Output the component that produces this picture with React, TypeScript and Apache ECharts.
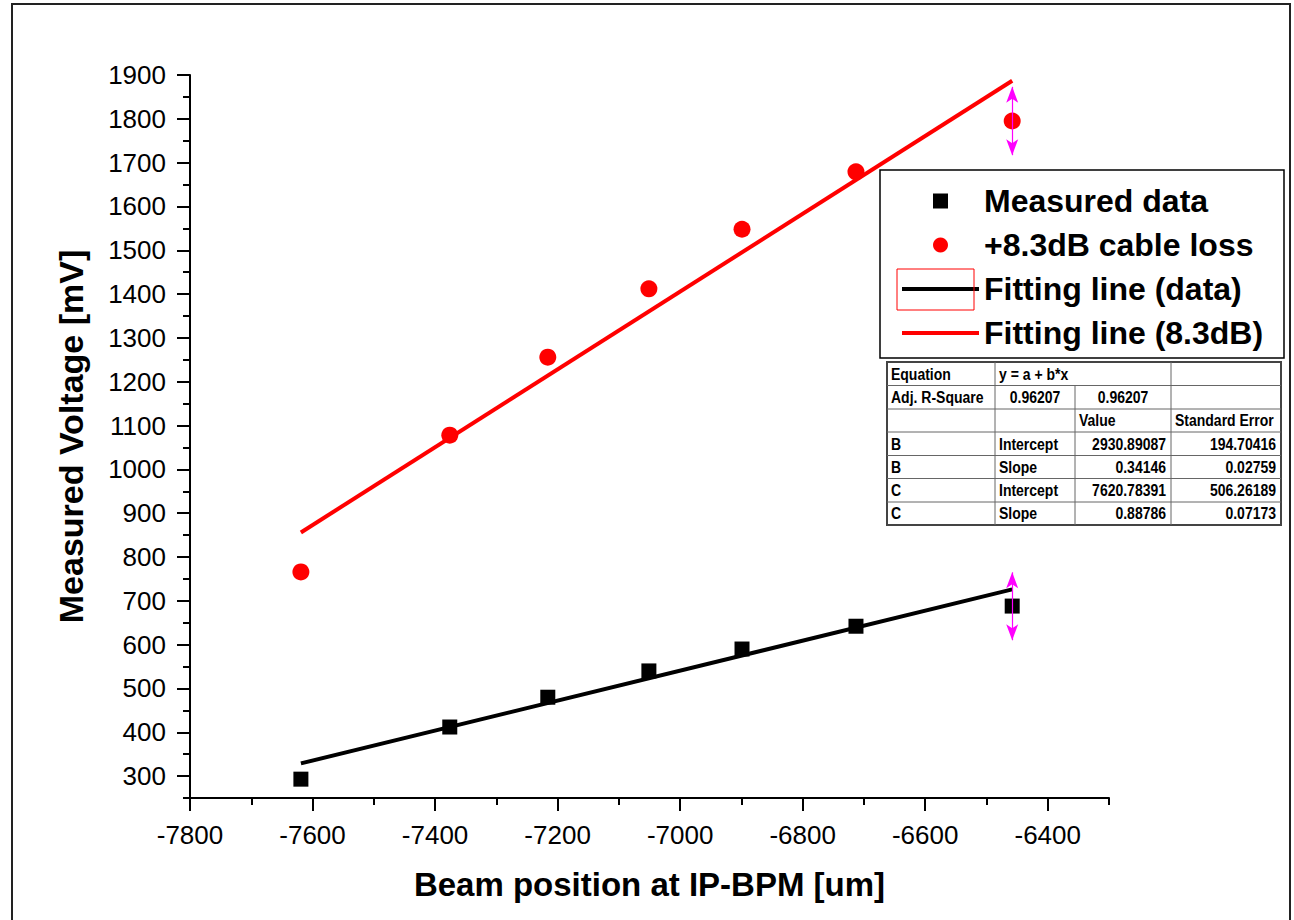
import { useEffect, useRef } from 'react';
import * as echarts from 'echarts';

// ---- data ----
const beamPosition = [-7619, -7376, -7216, -7051, -6899, -6713, -6458];
const measuredVoltage = [293, 412, 480, 540, 590, 642, 688];
const cableLossVoltage = [766, 1078, 1256, 1412, 1548, 1679, 1795];
const fitX = [-7619, -6458];
const fitDataY = [329, 726];
const fitCableY = [856, 1887];
const errorX = -6458;
const measuredErr = [610, 765];
const cableErr = [1717, 1873];
const xMajorTicks = [-7800, -7600, -7400, -7200, -7000, -6800, -6600, -6400];
const yMajorTicks = [300, 400, 500, 600, 700, 800, 900, 1000, 1100, 1200, 1300, 1400, 1500, 1600, 1700, 1800, 1900];
const seriesNames = ['Measured data', '+8.3dB cable loss', 'Fitting line (data)', 'Fitting line (8.3dB)'];
const tableRows = [
  ['Equation', 'y = a + b*x', '', ''],
  ['Adj. R-Square', '0.96207', '0.96207', ''],
  ['', '', 'Value', 'Standard Error'],
  ['B', 'Intercept', '2930.89087', '194.70416'],
  ['B', 'Slope', '0.34146', '0.02759'],
  ['C', 'Intercept', '7620.78391', '506.26189'],
  ['C', 'Slope', '0.88786', '0.07173'],
];
const tableAlign = [
  ['left', 'left', 'left', 'left'],
  ['left', 'center', 'center', 'left'],
  ['left', 'left', 'left', 'left'],
  ['left', 'left', 'right', 'right'],
  ['left', 'left', 'right', 'right'],
  ['left', 'left', 'right', 'right'],
  ['left', 'left', 'right', 'right'],
];

const FONT = '"Liberation Sans", Arial, Helvetica, sans-serif';

function buildTable() {
  const colX = [887, 995, 1075, 1171, 1281];
  const rowY = [362, 385.5, 409, 432, 455.5, 478.5, 502, 525];
  const children: any[] = [];
  children.push({
    type: 'rect',
    shape: { x: colX[0], y: rowY[0], width: colX[4] - colX[0], height: rowY[7] - rowY[0] },
    style: { fill: '#fff', stroke: '#444', lineWidth: 2 },
  });
  for (let r = 1; r < rowY.length - 1; r++) {
    children.push({
      type: 'line',
      shape: { x1: colX[0], y1: rowY[r], x2: colX[4], y2: rowY[r] },
      style: { stroke: '#666', lineWidth: 1 },
    });
  }
  for (let c = 1; c < 4; c++) {
    for (let r = 0; r < 7; r++) {
      if (r === 0 && c === 2) continue;
      children.push({
        type: 'line',
        shape: { x1: colX[c], y1: rowY[r], x2: colX[c], y2: rowY[r + 1] },
        style: { stroke: '#666', lineWidth: 1 },
      });
    }
  }
  tableRows.forEach((row, r) => {
    row.forEach((txt, c) => {
      if (!txt) return;
      const al = tableAlign[r][c];
      const x = al === 'left' ? colX[c] + 4 : al === 'right' ? colX[c + 1] - 5 : (colX[c] + colX[c + 1]) / 2;
      children.push({
        type: 'text',
        x,
        y: (rowY[r] + rowY[r + 1]) / 2,
        scaleY: 1.18,
        style: {
          text: txt,
          x: 0,
          y: 0,
          align: al,
          verticalAlign: 'middle',
          fill: '#000',
          font: `bold 14px ${FONT}`,
        },
      });
    });
  });
  return children;
}

export default function App() {
  const ref = useRef<HTMLDivElement>(null);
  useEffect(() => {
    const chart = echarts.init(ref.current!, null, { renderer: 'svg' });
    const axisLineStyle = { color: '#000', width: 2 };
    const labelStyle = { fontSize: 26, color: '#000', fontFamily: FONT };
    const option: any = {
      animation: false,
      backgroundColor: '#fff',
      grid: { left: 190, right: 185, top: 75, bottom: 122, containLabel: false },
      xAxis: [
        {
          type: 'value',
          min: -7800,
          max: -6300,
          interval: 100,
          position: 'bottom',
          name: 'Beam position at IP-BPM [um]',
          nameLocation: 'middle',
          nameGap: 70,
          nameTextStyle: { fontSize: 33, fontWeight: 'bold', color: '#000', fontFamily: FONT },
          axisLine: { show: true, onZero: false, lineStyle: axisLineStyle },
          axisTick: { show: true, length: 7, lineStyle: axisLineStyle },
          axisLabel: {
            ...labelStyle,
            margin: 24,
            formatter: (v: number) => (v % 200 === 0 ? String(v) : ''),
          },
          splitLine: { show: false },
        },
        {
          type: 'value',
          min: -7800,
          max: -6300,
          interval: 100,
          position: 'bottom',
          axisLine: { show: false, onZero: false },
          axisTick: { show: true, length: 13, customValues: xMajorTicks, lineStyle: axisLineStyle },
          axisLabel: { show: false },
          splitLine: { show: false },
        },
      ],
      yAxis: [
        {
          type: 'value',
          min: 250,
          max: 1900,
          interval: 50,
          position: 'left',
          name: 'Measured Voltage [mV]',
          nameLocation: 'middle',
          nameGap: 102,
          nameTextStyle: { fontSize: 34, fontWeight: 'bold', color: '#000', fontFamily: FONT },
          axisLine: { show: true, onZero: false, lineStyle: axisLineStyle },
          axisTick: { show: true, length: 7, lineStyle: axisLineStyle },
          axisLabel: {
            ...labelStyle,
            margin: 24,
            formatter: (v: number) => (v % 100 === 0 ? String(v) : ''),
          },
          splitLine: { show: false },
        },
        {
          type: 'value',
          min: 250,
          max: 1900,
          interval: 50,
          position: 'left',
          axisLine: { show: false, onZero: false },
          axisTick: { show: true, length: 13, customValues: yMajorTicks, lineStyle: axisLineStyle },
          axisLabel: { show: false },
          splitLine: { show: false },
        },
      ],
      legend: {
        left: 897,
        top: 179,
        orient: 'vertical',
        itemWidth: 77,
        itemHeight: 15,
        itemGap: 10,
        selectedMode: false,
        symbolKeepAspect: true,
        textStyle: {
          fontSize: 32,
          fontWeight: 'bold',
          color: '#000',
          fontFamily: FONT,
          lineHeight: 34,
        },
        data: [
          { name: seriesNames[0], icon: 'path://M0,0H10V10H0Z', itemStyle: { opacity: 1 } },
          { name: seriesNames[1], icon: 'circle', itemStyle: { opacity: 1 } },
          { name: seriesNames[2], icon: 'path://M0,0H80V4H0Z' },
          { name: seriesNames[3], icon: 'path://M0,0H80V4H0Z' },
        ],
      },
      graphic: [
        {
          type: 'rect',
          shape: { x: 12, y: 4, width: 1278, height: 940 },
          style: { fill: 'none', stroke: '#222', lineWidth: 2 },
          silent: true,
        },
        {
          type: 'rect',
          shape: { x: 880, y: 170, width: 404, height: 188 },
          style: { fill: '#fff', stroke: '#000', lineWidth: 1.5 },
          silent: true,
        },
        {
          type: 'rect',
          shape: { x: 897, y: 269, width: 77, height: 41 },
          style: { fill: 'none', stroke: '#ff0000', lineWidth: 1 },
          silent: true,
          z: 10,
        },
        { type: 'group', children: buildTable(), silent: true },
      ],
      series: [
        {
          name: seriesNames[2],
          type: 'line',
          xAxisIndex: 0,
          yAxisIndex: 0,
          symbol: 'none',
          color: '#000',
          lineStyle: { color: '#000', width: 4 },
          data: fitX.map((x, i) => [x, fitDataY[i]]),
          z: 2,
        },
        {
          name: seriesNames[3],
          type: 'line',
          xAxisIndex: 0,
          yAxisIndex: 0,
          symbol: 'none',
          color: '#ff0000',
          lineStyle: { color: '#ff0000', width: 4 },
          data: fitX.map((x, i) => [x, fitCableY[i]]),
          z: 2,
        },
        {
          name: seriesNames[0],
          type: 'scatter',
          xAxisIndex: 0,
          yAxisIndex: 0,
          symbol: 'rect',
          symbolSize: 15,
          color: '#000',
          itemStyle: { color: '#000', opacity: 1 },
          data: beamPosition.map((x, i) => [x, measuredVoltage[i]]),
          z: 3,
          markLine: {
            silent: true,
            symbol: ['arrow', 'arrow'],
            symbolSize: [9, 16],
            label: { show: false },
            lineStyle: { color: '#ff00ff', width: 1.2, type: 'solid', opacity: 1 },
            data: [[{ coord: [errorX, measuredErr[0]] }, { coord: [errorX, measuredErr[1]] }]],
          },
        },
        {
          name: seriesNames[1],
          type: 'scatter',
          xAxisIndex: 0,
          yAxisIndex: 0,
          symbol: 'circle',
          symbolSize: 17,
          color: '#ff0000',
          itemStyle: { color: '#ff0000', opacity: 1 },
          data: beamPosition.map((x, i) => [x, cableLossVoltage[i]]),
          z: 3,
          markLine: {
            silent: true,
            symbol: ['arrow', 'arrow'],
            symbolSize: [9, 16],
            label: { show: false },
            lineStyle: { color: '#ff00ff', width: 1.2, type: 'solid', opacity: 1 },
            data: [[{ coord: [errorX, cableErr[0]] }, { coord: [errorX, cableErr[1]] }]],
          },
        },
      ],
    };
    chart.setOption(option);
    return () => chart.dispose();
  }, []);
  return (
    <div
      ref={ref}
      style={{ position: 'fixed', left: 0, top: 0, width: 1294, height: 920, background: '#fff' }}
    />
  );
}
